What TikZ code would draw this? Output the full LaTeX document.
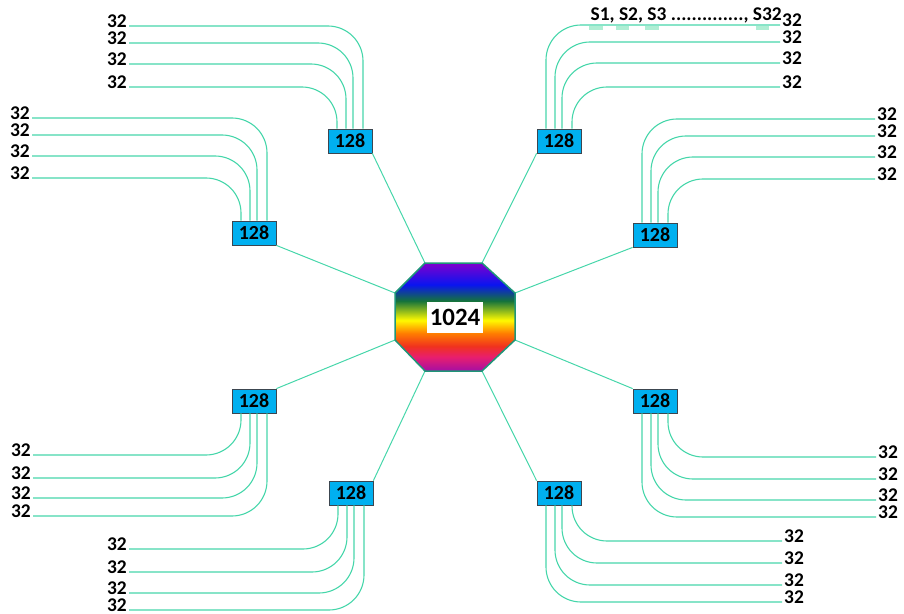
\documentclass[tikz,border=0pt]{standalone}
\usepackage{fontspec}
\setmainfont{Carlito}
\usetikzlibrary{shapes.geometric,positioning}
\definecolor{wirecol}{RGB}{70,214,170}
\definecolor{markcol}{RGB}{175,238,212}
\definecolor{boxfill}{RGB}{0,176,240}
\definecolor{boxedge}{RGB}{60,70,80}
\definecolor{octedge}{RGB}{30,150,120}
\definecolor{octviolet}{RGB}{128,0,205}
\definecolor{octblue}{RGB}{10,20,240}
\definecolor{octgreen}{RGB}{20,115,60}
\definecolor{octyellow}{RGB}{255,250,0}
\definecolor{octorange}{RGB}{255,125,0}
\definecolor{octred}{RGB}{240,50,30}
\definecolor{octpink}{RGB}{232,30,110}
\definecolor{octpurple}{RGB}{165,15,165}
\pgfdeclareverticalshading{rainbow}{100bp}{color(0bp)=(octpurple); color(25bp)=(octpurple); color(31.5bp)=(octpink); color(36.5bp)=(octred); color(42.5bp)=(octorange); color(48.5bp)=(octyellow); color(57.5bp)=(octgreen); color(65bp)=(octblue); color(75bp)=(octviolet); color(100bp)=(octviolet)}

\begin{document}
\begin{tikzpicture}[
  x=1bp, y=-1bp,
  box/.style={draw=boxedge, fill=boxfill, line width=0.8bp, minimum width=44bp, minimum height=24bp, inner sep=0pt, font=\fontsize{20}{20}\selectfont\bfseries},
  hubtext/.style={fill=white, minimum width=56bp, minimum height=31bp, inner sep=0pt, font=\fontsize{25}{25}\selectfont\bfseries},
  lab/.style={inner xsep=2bp, inner ysep=0pt, yshift=5bp, font=\fontsize{19.5}{19.5}\selectfont\bfseries},
  lableft/.style={lab, anchor=east},
  labright/.style={lab, anchor=west},
  listtext/.style={inner sep=0pt, anchor=east, font=\fontsize{19.5}{19.5}\selectfont\bfseries},
  wire/.style={draw=wirecol, line width=1.1bp, rounded corners=35bp},
  link/.style={draw=wirecol, line width=1bp}
]
  \useasboundingbox (0,0) rectangle (904,614);

  \coordinate (ov1) at (425,263);
  \coordinate (ov2) at (482,263);
  \coordinate (ov3) at (515,293);
  \coordinate (ov4) at (515,340);
  \coordinate (ov5) at (482,371);
  \coordinate (ov6) at (425,371);
  \coordinate (ov7) at (395,340);
  \coordinate (ov8) at (395,293);

  \node[box] (nwa) at (350,141) {128};
  \node[box] (nwb) at (254,233) {128};
  \node[box] (nea) at (559,141) {128};
  \node[box] (neb) at (655,235) {128};
  \node[box] (seb) at (655,401) {128};
  \node[box] (sea) at (559,493) {128};
  \node[box] (swb) at (254,401) {128};
  \node[box] (swa) at (351,493) {128};

  \draw[link] (nwa.south east) -- (ov1);
  \draw[link] (nwb.south east) -- (ov8);
  \draw[link] (nea.south west) -- (ov2);
  \draw[link] (neb.south west) -- (ov3);
  \draw[link] (seb.north west) -- (ov4);
  \draw[link] (sea.north west) -- (ov5);
  \draw[link] (swb.north east) -- (ov7);
  \draw[link] (swa.north east) -- (ov6);

  \shadedraw[shading=rainbow, draw=octedge, line width=1.5bp]
    (ov1) -- (ov2) -- (ov3) -- (ov4) -- (ov5) -- (ov6) -- (ov7) -- (ov8) -- cycle;
  \node[hubtext] (hub) at (455,317) {1024};

  \node[lableft] (nwa1) at (129,26) {32};
  \node[lableft] (nwa2) at (129,43) {32};
  \node[lableft] (nwa3) at (129,64) {32};
  \node[lableft] (nwa4) at (129,87) {32};
  \draw[wire] ([xshift=13bp]nwa.north) |- ([yshift=-5bp]nwa1.east);
  \draw[wire] ([xshift=3bp]nwa.north) |- ([yshift=-5bp]nwa2.east);
  \draw[wire] ([xshift=-4bp]nwa.north) |- ([yshift=-5bp]nwa3.east);
  \draw[wire] ([xshift=-13bp]nwa.north) |- ([yshift=-5bp]nwa4.east);

  \node[lableft] (nwb1) at (32,118) {32};
  \node[lableft] (nwb2) at (32,135) {32};
  \node[lableft] (nwb3) at (32,156) {32};
  \node[lableft] (nwb4) at (32,178) {32};
  \draw[wire] ([xshift=13bp]nwb.north) |- ([yshift=-5bp]nwb1.east);
  \draw[wire] ([xshift=3bp]nwb.north) |- ([yshift=-5bp]nwb2.east);
  \draw[wire] ([xshift=-4bp]nwb.north) |- ([yshift=-5bp]nwb3.east);
  \draw[wire] ([xshift=-13bp]nwb.north) |- ([yshift=-5bp]nwb4.east);

  \fill[markcol] (589,26) rectangle (603,30);
  \fill[markcol] (616,26) rectangle (629,30);
  \fill[markcol] (645,26) rectangle (659,30);
  \fill[markcol] (756,26) rectangle (769,30);
  \node[labright] (nea1) at (780,25) {32};
  \node[labright] (nea2) at (780,42) {32};
  \node[labright] (nea3) at (780,63) {32};
  \node[labright] (nea4) at (780,87) {32};
  \node[listtext] (slist) at (782,15) {S1, S2, S3 .............., S32};
  \draw[wire] ([xshift=-13bp]nea.north) |- ([yshift=-5bp]nea1.west);
  \draw[wire] ([xshift=-4bp]nea.north) |- ([yshift=-5bp]nea2.west);
  \draw[wire] ([xshift=3bp]nea.north) |- ([yshift=-5bp]nea3.west);
  \draw[wire] ([xshift=13bp]nea.north) |- ([yshift=-5bp]nea4.west);

  \node[labright] (neb1) at (875,119) {32};
  \node[labright] (neb2) at (875,136) {32};
  \node[labright] (neb3) at (875,157) {32};
  \node[labright] (neb4) at (875,179) {32};
  \draw[wire] ([xshift=-13bp]neb.north) |- ([yshift=-5bp]neb1.west);
  \draw[wire] ([xshift=-4bp]neb.north) |- ([yshift=-5bp]neb2.west);
  \draw[wire] ([xshift=3bp]neb.north) |- ([yshift=-5bp]neb3.west);
  \draw[wire] ([xshift=13bp]neb.north) |- ([yshift=-5bp]neb4.west);

  \node[labright] (seb1) at (876,457) {32};
  \node[labright] (seb2) at (876,479) {32};
  \node[labright] (seb3) at (876,500) {32};
  \node[labright] (seb4) at (876,517) {32};
  \draw[wire] ([xshift=13bp]seb.south) |- ([yshift=-5bp]seb1.west);
  \draw[wire] ([xshift=3bp]seb.south) |- ([yshift=-5bp]seb2.west);
  \draw[wire] ([xshift=-4bp]seb.south) |- ([yshift=-5bp]seb3.west);
  \draw[wire] ([xshift=-13bp]seb.south) |- ([yshift=-5bp]seb4.west);

  \node[labright] (sea1) at (782,541) {32};
  \node[labright] (sea2) at (782,563) {32};
  \node[labright] (sea3) at (782,585) {32};
  \node[labright] (sea4) at (782,602) {32};
  \draw[wire] ([xshift=13bp]sea.south) |- ([yshift=-5bp]sea1.west);
  \draw[wire] ([xshift=3bp]sea.south) |- ([yshift=-5bp]sea2.west);
  \draw[wire] ([xshift=-4bp]sea.south) |- ([yshift=-5bp]sea3.west);
  \draw[wire] ([xshift=-13bp]sea.south) |- ([yshift=-5bp]sea4.west);

  \node[lableft] (swb1) at (33,455) {32};
  \node[lableft] (swb2) at (33,478) {32};
  \node[lableft] (swb3) at (33,498) {32};
  \node[lableft] (swb4) at (33,516) {32};
  \draw[wire] ([xshift=-13bp]swb.south) |- ([yshift=-5bp]swb1.east);
  \draw[wire] ([xshift=-4bp]swb.south) |- ([yshift=-5bp]swb2.east);
  \draw[wire] ([xshift=3bp]swb.south) |- ([yshift=-5bp]swb3.east);
  \draw[wire] ([xshift=13bp]swb.south) |- ([yshift=-5bp]swb4.east);

  \node[lableft] (swa1) at (129,549) {32};
  \node[lableft] (swa2) at (129,572) {32};
  \node[lableft] (swa3) at (129,593) {32};
  \node[lableft] (swa4) at (129,610) {32};
  \draw[wire] ([xshift=-13bp]swa.south) |- ([yshift=-5bp]swa1.east);
  \draw[wire] ([xshift=-4bp]swa.south) |- ([yshift=-5bp]swa2.east);
  \draw[wire] ([xshift=3bp]swa.south) |- ([yshift=-5bp]swa3.east);
  \draw[wire] ([xshift=13bp]swa.south) |- ([yshift=-5bp]swa4.east);
\end{tikzpicture}
\end{document}
